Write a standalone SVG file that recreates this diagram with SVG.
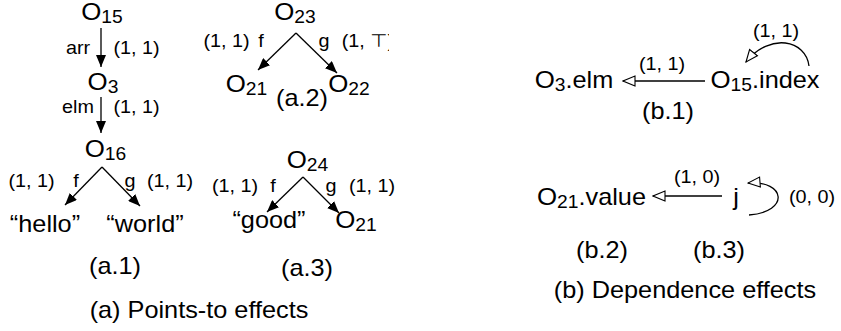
<svg xmlns="http://www.w3.org/2000/svg" width="841" height="331" viewBox="0 0 841 331">
<style>
text{font-family:"Liberation Sans",Arial,"DejaVu Sans",sans-serif;fill:#000;text-anchor:middle;transform-box:fill-box;transform-origin:50% 50%;transform:scale(1.1,1)}
.t{font-size:23px}
.l{font-size:18px}
.sub{font-size:17.5px}
.o{font-size:23.5px}
.e{fill:none;stroke:#000;stroke-width:1.3}
.pt{marker-end:url(#solid)}
.dp{marker-end:url(#open)}
</style>
<defs>
<marker id="solid" viewBox="0 0 12 10" refX="12" refY="5" markerWidth="12" markerHeight="10" markerUnits="userSpaceOnUse" orient="auto">
<path d="M0,0 L12,5 L0,10 Z" fill="#000"/>
</marker>
<marker id="open" viewBox="-1 -1 14 12" refX="12" refY="5" markerWidth="14" markerHeight="12" markerUnits="userSpaceOnUse" orient="auto">
<path d="M0,0 L12,5 L0,10 Z" fill="#fff" stroke="#000" stroke-width="1.1"/>
</marker>
<clipPath id="clipTop"><rect x="300" y="25" width="89" height="30"/></clipPath>
</defs>

<g id="connectors">
<path class="e pt" d="M101,28 L101,67"/>
<path class="e pt" d="M101,97 L101,133"/>
<path class="e pt" d="M102,167 L65,205"/>
<path class="e pt" d="M102,167 L140,206"/>
<path class="e pt" d="M296,33 L258,70"/>
<path class="e pt" d="M296,33 L337,73"/>
<path class="e pt" d="M303,177 L267,212"/>
<path class="e pt" d="M303,177 L339,213"/>
<path class="e dp" d="M705,81 L623,81"/>
<path class="e dp" d="M809,66 C806,40 770,32 746,62"/>
<path class="e dp" d="M722,196 L653,196"/>
<path class="e dp" d="M749,215 C790,212 786,180 748,183"/>
<g id="edge-labels">
<text class="l" x="78" y="54">arr</text>
<text class="l" x="136.5" y="54">(1, 1)</text>
<text class="l" x="78" y="113">elm</text>
<text class="l" x="136.5" y="113">(1, 1)</text>
<text class="l" x="31.5" y="187">(1, 1)</text>
<text class="l" x="76" y="187">f</text>
<text class="l" x="130" y="187">g</text>
<text class="l" x="170" y="187">(1, 1)</text>
<text class="l" x="226.5" y="47">(1, 1)</text>
<text class="l" x="261" y="47">f</text>
<text class="l" x="324" y="47">g</text>
<g clip-path="url(#clipTop)"><text class="l" x="368" y="47">(1, ⊤)</text></g>
<text class="l" x="235" y="192">(1, 1)</text>
<text class="l" x="273" y="192">f</text>
<text class="l" x="331" y="192">g</text>
<text class="l" x="372" y="192">(1, 1)</text>
<text class="l" x="662" y="70">(1, 1)</text>
<text class="l" x="776" y="37">(1, 1)</text>
<text class="l" x="697" y="183">(1, 0)</text>
<text class="l" x="812" y="203">(0, 0)</text>
</g>
</g>

<g id="a1-o15"><text class="o" x="102" y="20">O<tspan class="sub" dy="3">15</tspan></text></g>
<g id="a1-o3"><text class="o" x="103" y="90">O<tspan class="sub" dy="3">3</tspan></text></g>
<g id="a1-o16"><text class="o" x="105.5" y="157">O<tspan class="sub" dy="3">16</tspan></text></g>
<g id="a1-hello"><text class="t" x="45" y="232">“hello”</text></g>
<g id="a1-world"><text class="t" x="145" y="232">“world”</text></g>

<g id="a2-o23"><text class="o" x="295" y="20">O<tspan class="sub" dy="3">23</tspan></text></g>
<g id="a2-o21"><text class="o" x="246.5" y="92">O<tspan class="sub" dy="3">21</tspan></text></g>
<g id="a2-o22"><text class="o" x="349" y="92">O<tspan class="sub" dy="3">22</tspan></text></g>

<g id="a3-o24"><text class="o" x="307.5" y="168">O<tspan class="sub" dy="3">24</tspan></text></g>
<g id="a3-good"><text class="t" x="269" y="228">“good”</text></g>
<g id="a3-o21"><text class="o" x="356" y="228">O<tspan class="sub" dy="3">21</tspan></text></g>

<g id="b1-o3elm"><text class="o" x="574" y="88">O<tspan class="sub" dy="3">3</tspan><tspan class="t" dy="-3">.elm</tspan></text></g>
<g id="b1-o15index"><text class="o" x="765" y="88">O<tspan class="sub" dy="3">15</tspan><tspan class="t" dy="-3">.index</tspan></text></g>
<g id="b2-o21value"><text class="o" x="591.5" y="205">O<tspan class="sub" dy="3">21</tspan><tspan class="t" dy="-3">.value</tspan></text></g>
<g id="b3-j"><text class="t" x="736" y="205">j</text></g>

<g id="captions">
<text class="t" x="115" y="274">(a.1)</text>
<text class="t" x="302" y="106">(a.2)</text>
<text class="t" x="307" y="276">(a.3)</text>
<text class="t" x="199" y="318">(a) Points-to effects</text>
<text class="t" x="668" y="119">(b.1)</text>
<text class="t" x="602" y="258">(b.2)</text>
<text class="t" x="719" y="258">(b.3)</text>
<text class="t" x="685" y="298">(b) Dependence effects</text>
</g>
</svg>
